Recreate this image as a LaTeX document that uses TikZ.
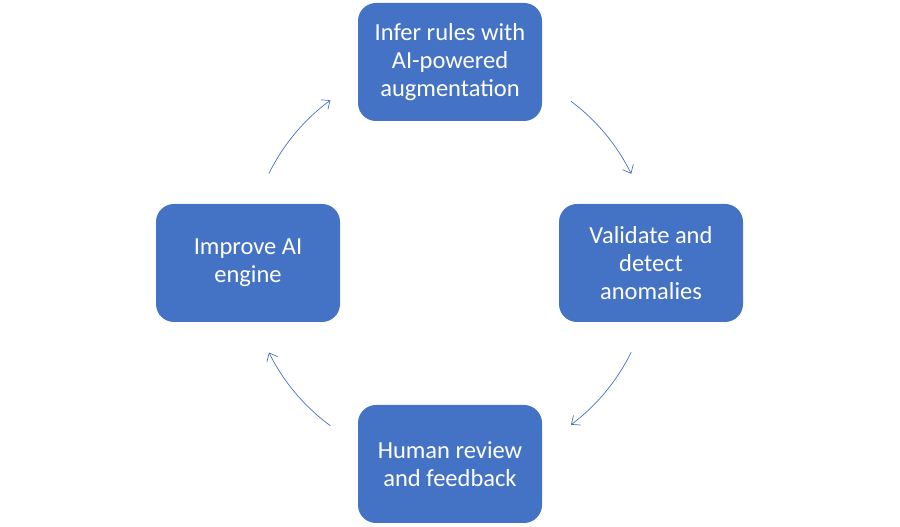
\documentclass[tikz,border=0pt]{standalone}
\usepackage{fontspec}
\setmainfont{Carlito}
\usetikzlibrary{arrows.meta,calc}
\begin{document}
\begin{tikzpicture}[x=1pt,y=1pt,
  box/.style={draw=none,fill=boxblue,rounded corners=18pt,minimum width=184pt,minimum height=118pt,text=white,align=center,font=\fontsize{24.5}{27.8}\selectfont},
  conn/.style={draw=boxblue,line width=0.7pt,-{Straight Barb[length=7pt,width=12pt]}}]
\definecolor{boxblue}{HTML}{4472C4}
\useasboundingbox (0,0) rectangle (900,527);
\coordinate (c) at (450,264);
\node[box] (top) at (450,465) {Infer rules with\\AI-powered\\augmentation};
\node[box] (right) at (651,264) {Validate and\\detect\\anomalies};
\node[box] (bottom) at (450,63) {Human review\\and feedback};
\node[box] (left) at (248,264) {Improve AI\\engine};
\coordinate (a1) at ($(c)+(53.2:202)$);
\coordinate (a2) at ($(c)+(-26.2:202)$);
\coordinate (a3) at ($(c)+(-126.3:202)$);
\coordinate (a4) at ($(c)+(153.7:202)$);
\draw[conn] (a1) arc[start angle=53.2,end angle=26.2,radius=202];
\draw[conn] (a2) arc[start angle=-26.2,end angle=-53.2,radius=202];
\draw[conn] (a3) arc[start angle=-126.3,end angle=-153.7,radius=202];
\draw[conn] (a4) arc[start angle=153.7,end angle=126.3,radius=202];
\end{tikzpicture}
\end{document}
